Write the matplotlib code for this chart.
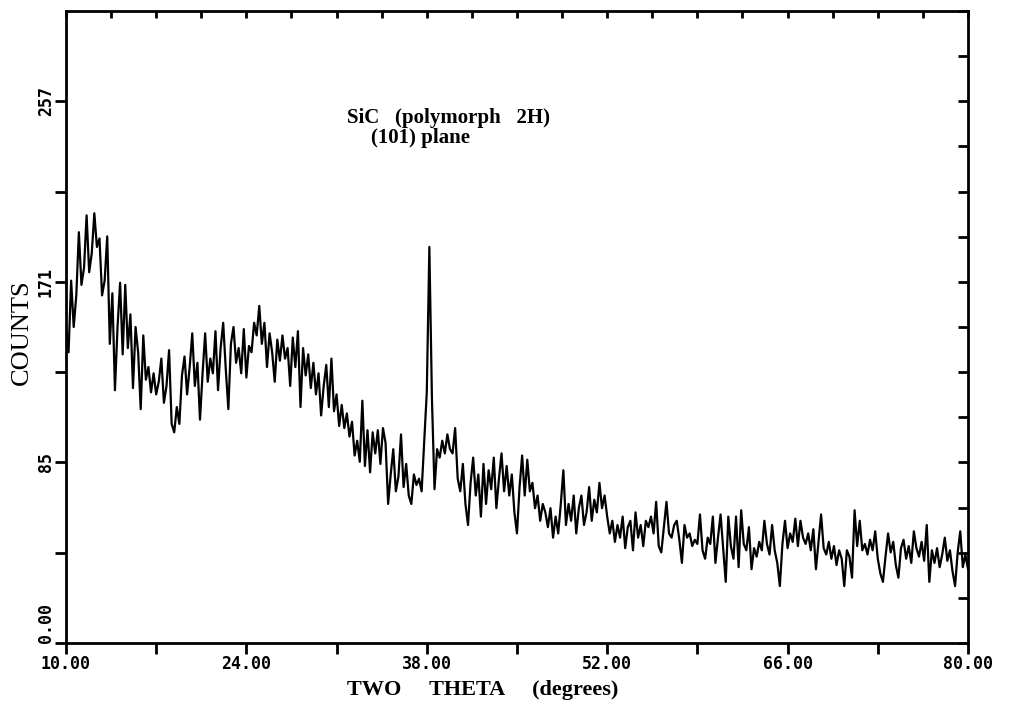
import numpy as np
import matplotlib.pyplot as plt

# two-theta scan, 0.2 degree steps from 10 to 80
two_theta = np.round(np.arange(10.0, 80.01, 0.2), 1)

counts = [
    150, 138, 172, 150, 165,   # 10
    195, 170, 178, 203, 176,   # 11
    185, 204, 188, 192, 165,   # 12
    172, 193, 142, 166, 120,   # 13
    150, 171, 137, 170, 140,   # 14
    156, 121, 150, 138, 111,   # 15
    146, 125, 131, 119, 128,   # 16
    118, 124, 135, 114, 122,   # 17
    139, 104, 100, 112, 104,   # 18
    127, 136, 118, 131, 147,   # 19
    122, 133, 106, 128, 147,   # 20
    124, 135, 128, 148, 120,   # 21
    140, 152, 130, 111, 142,   # 22
    150, 133, 140, 128, 149,   # 23
    126, 141, 138, 152, 146,   # 24
    160, 142, 152, 131, 147,   # 25
    138, 124, 144, 134, 146,   # 26
    135, 140, 122, 145, 131,   # 27
    148, 112, 140, 127, 137,   # 28
    121, 133, 118, 128, 108,   # 29
    122, 132, 112, 135, 110,   # 30
    118, 103, 113, 102, 109,   # 31
    98, 105, 89, 96, 86,       # 32
    115, 84, 101, 81, 100,     # 33
    90, 101, 85, 102, 95,      # 34
    66, 80, 92, 72, 79,        # 35
    99, 74, 85, 70, 66,        # 36
    80, 75, 78, 72, 96,        # 37
    119, 188, 116, 73, 92,     # 38
    88, 96, 90, 99, 92,        # 39
    90, 102, 78, 72, 85,       # 40
    66, 56, 76, 88, 70,        # 41
    80, 60, 85, 66, 82,        # 42
    73, 88, 64, 78, 90,        # 43
    72, 84, 70, 80, 62,        # 44
    52, 74, 89, 70, 87,        # 45
    72, 76, 64, 70, 58,        # 46
    66, 62, 55, 64, 50,        # 47
    60, 52, 66, 82, 56,        # 48
    66, 58, 70, 52, 64,        # 49
    70, 56, 62, 74, 58,        # 50
    68, 62, 76, 64, 70,        # 51
    60, 52, 58, 48, 56,        # 52
    50, 60, 45, 55, 58,        # 53
    44, 62, 50, 56, 46,        # 54
    58, 55, 60, 52, 67,        # 55
    46, 43, 55, 67, 52,        # 56
    50, 56, 58, 49, 38,        # 57
    56, 50, 52, 46, 49,        # 58
    47, 61, 44, 40, 50,        # 59
    47, 60, 38, 50, 61,        # 60
    45, 29, 60, 46, 40,        # 61
    60, 36, 63, 47, 44,        # 62
    55, 35, 45, 41, 48,        # 63
    44, 58, 47, 42, 56,        # 64
    44, 38, 27, 47, 58,        # 65
    45, 52, 48, 59, 46,        # 66
    58, 50, 47, 52, 44,        # 67
    54, 35, 48, 61, 45,        # 68
    42, 48, 40, 46, 37,        # 69
    44, 40, 27, 44, 41,        # 70
    31, 63, 46, 58, 44,        # 71
    47, 42, 49, 44, 53,        # 72
    40, 33, 29, 41, 52,        # 73
    43, 48, 37, 31, 45,        # 74
    49, 40, 46, 38, 53,        # 75
    45, 41, 48, 39, 56,        # 76
    29, 44, 38, 45, 36,        # 77
    42, 50, 39, 44, 34,        # 78
    27, 43, 53, 36, 42,        # 79
    35,                        # 80
]

x_major = [10, 24, 38, 52, 66, 80]
x_major_labels = ['10.00', '24.00', '38.00', '52.00', '66.00', '80.00']
x_minor = [17, 31, 45, 59, 73]
y_major = [0, 300 * 2 / 7, 300 * 4 / 7, 300 * 6 / 7]
y_major_labels = ['0.00', '85', '171', '257']
y_minor = [300 / 7, 300 * 3 / 7, 300 * 5 / 7]

fig = plt.figure(figsize=(10.12, 7.10), dpi=100)
ax = fig.add_axes([0.0652, 0.0944, 0.8913, 0.8901])

ax.plot(two_theta, counts, color='black', linewidth=1.6)

ax.set_xlim(10, 80)
ax.set_ylim(0, 300)

for side in ax.spines.values():
    side.set_linewidth(2)

tick_font = dict(fontfamily='DejaVu Sans Mono', fontweight='bold', fontsize=12)
ax.set_xticks(x_major)
ax.set_xticklabels(x_major_labels, **tick_font)
ax.set_xticks(x_minor, minor=True)
ax.set_yticks(y_major)
ax.set_yticklabels(y_major_labels, rotation=90, va='center', **tick_font)
ax.set_yticks(y_minor, minor=True)
ax.tick_params(which='both', direction='out', length=8, width=2)
ax.tick_params(axis='x', pad=1)
ax.tick_params(axis='y', pad=0)
# lift the zero label clear of the first x label
ax.get_yticklabels()[0].set_va('bottom')

# finer inward ticks along the top and right edges
top = ax.secondary_xaxis('top')
top.set_xticks(np.arange(10, 80.01, 3.5))
top.tick_params(direction='in', length=5, width=2, labeltop=False)
right = ax.secondary_yaxis('right')
right.set_yticks(np.arange(0, 300.01, 300 / 14))
right.tick_params(direction='in', length=7, width=2, labelright=False)

fig.text(483 / 1012, 1 - 690 / 710, 'TWO     THETA     (degrees)',
         ha='center', va='center', fontfamily='Liberation Serif',
         fontweight='bold', fontsize=16)
fig.text(22 / 1012, 1 - 332 / 710, 'COUNTS', rotation=90,
         ha='center', va='center', fontfamily='Liberation Serif', fontsize=19)

fig.text(449 / 1012, 1 - 118 / 710, 'SiC   (polymorph   2H)',
         ha='center', va='center', fontfamily='Liberation Serif',
         fontweight='bold', fontsize=15)
fig.text(421 / 1012, 1 - 138 / 710, '(101) plane',
         ha='center', va='center', fontfamily='Liberation Serif',
         fontweight='bold', fontsize=15)

fig.savefig('out.png', dpi=100)
